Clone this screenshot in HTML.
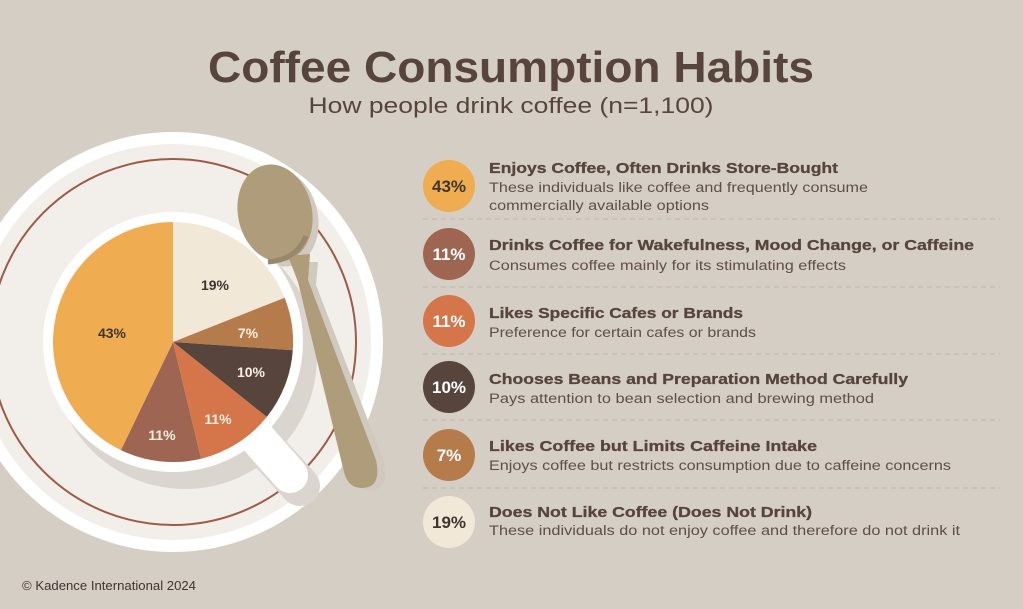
<!DOCTYPE html>
<html><head><meta charset="utf-8"><style>
html,body{margin:0;padding:0;background:#d5cec4;}
svg{display:block;font-family:"Liberation Sans",sans-serif;}
</style></head><body>
<svg width="1023" height="609" viewBox="0 0 1023 609" xmlns="http://www.w3.org/2000/svg">
<rect width="1023" height="609" fill="#d5cec4"/>
<text x="511" y="82" text-anchor="middle" font-size="44" font-weight="bold" fill="#57453d" textLength="606" lengthAdjust="spacingAndGlyphs">Coffee Consumption Habits</text>
<text x="511" y="113" text-anchor="middle" font-size="22" fill="#57453d" textLength="405" lengthAdjust="spacingAndGlyphs">How people drink coffee (n=1,100)</text>

<!-- saucer -->
<circle cx="173" cy="342" r="210" fill="#ffffff"/>
<circle cx="173" cy="342" r="198" fill="#f2efea"/>
<circle cx="173" cy="342" r="183" fill="none" stroke="#9e5a45" stroke-width="2"/>
<!-- spoon shadow -->
<g fill="#cfc9c0">
<ellipse cx="281" cy="218" rx="37" ry="49" transform="rotate(-12 281 218)"/>
<path d="M296 262 L318 262 L316 285 L384 462 Q390 490 370 490 Q356 490 350 476 L306 285 Z"/>
</g>
<!-- cup shadow & handle -->
<circle cx="185" cy="357" r="132" fill="#dad6cf"/>
<path d="M258 440 L300 486" stroke="#dad6cf" stroke-width="40" stroke-linecap="round"/>
<path d="M252 432 L290 475" stroke="#ffffff" stroke-width="36" stroke-linecap="round"/>
<circle cx="173" cy="342" r="130" fill="#ffffff"/>
<!-- pie -->
<g transform="translate(173,342)">
<path d="M0 0 L0 -120 A120 120 0 0 1 111.6 -44.2 Z" fill="#f2e8d8"/>
<path d="M0 0 L111.6 -44.2 A120 120 0 0 1 119.8 8.2 Z" fill="#b57b4b"/>
<path d="M0 0 L119.8 8.2 A120 120 0 0 1 93.7 75.0 Z" fill="#57453d"/>
<path d="M0 0 L93.7 75.0 A120 120 0 0 1 28.1 116.7 Z" fill="#d4764a"/>
<path d="M0 0 L28.1 116.7 A120 120 0 0 1 -52.1 108.1 Z" fill="#9e6652"/>
<path d="M0 0 L-52.1 108.1 A120 120 0 0 1 0 -120 Z" fill="#f0ac50"/>
</g>
<g font-size="14" font-weight="bold" text-anchor="middle">
<text x="215" y="290" fill="#3f3430">19%</text>
<text x="248" y="338" fill="#f7efe4">7%</text>
<text x="251" y="377" fill="#f7efe4">10%</text>
<text x="218" y="424" fill="#f7efe4">11%</text>
<text x="162" y="440" fill="#f7efe4">11%</text>
<text x="112" y="338" fill="#3f3430">43%</text>
</g>
<!-- spoon -->
<g fill="#ae9c7b">
<ellipse cx="275" cy="213" rx="37" ry="49" transform="rotate(-12 275 213)"/>
<path d="M288 256 L310 254 L308 280 L376 460 Q382 488 362 488 Q348 488 344 472 L298 282 Z"/>
</g>
<path d="M268 262 Q296 260 306 236" stroke="#9a876a" stroke-width="5" fill="none"/>

<!-- legend -->
<g stroke="#bfb7ab" stroke-width="1" stroke-dasharray="5,4">
<line x1="423" y1="219" x2="1000" y2="219"/>
<line x1="423" y1="287" x2="1000" y2="287"/>
<line x1="423" y1="354" x2="1000" y2="354"/>
<line x1="423" y1="420" x2="1000" y2="420"/>
<line x1="423" y1="488" x2="1000" y2="488"/>
</g>
<circle cx="449" cy="186" r="26" fill="#f0ac50"/>
<circle cx="449" cy="254" r="26" fill="#9e6652"/>
<circle cx="449" cy="321" r="26" fill="#d4764a"/>
<circle cx="449" cy="387" r="26" fill="#57453d"/>
<circle cx="449" cy="455" r="26" fill="#b57b4b"/>
<circle cx="449" cy="522" r="26" fill="#f2e8d8"/>
<g font-size="17" font-weight="bold" text-anchor="middle">
<text x="449" y="192" fill="#3f3430">43%</text>
<text x="449" y="260" fill="#ffffff">11%</text>
<text x="449" y="327" fill="#ffffff">11%</text>
<text x="449" y="393" fill="#ffffff">10%</text>
<text x="449" y="461" fill="#ffffff">7%</text>
<text x="449" y="528" fill="#3f3430">19%</text>
</g>
<g font-size="15" font-weight="bold" fill="#57453d" stroke="#57453d" stroke-width="0.3">
<text x="489" y="173" textLength="349" lengthAdjust="spacingAndGlyphs">Enjoys Coffee, Often Drinks Store-Bought</text>
<text x="489" y="250" textLength="485" lengthAdjust="spacingAndGlyphs">Drinks Coffee for Wakefulness, Mood Change, or Caffeine</text>
<text x="489" y="318" textLength="254" lengthAdjust="spacingAndGlyphs">Likes Specific Cafes or Brands</text>
<text x="489" y="384" textLength="419" lengthAdjust="spacingAndGlyphs">Chooses Beans and Preparation Method Carefully</text>
<text x="489" y="451" textLength="328" lengthAdjust="spacingAndGlyphs">Likes Coffee but Limits Caffeine Intake</text>
<text x="489" y="517" textLength="323" lengthAdjust="spacingAndGlyphs">Does Not Like Coffee (Does Not Drink)</text>
</g>
<g font-size="13.5" fill="#5e4e47">
<text x="489" y="192" textLength="379" lengthAdjust="spacingAndGlyphs">These individuals like coffee and frequently consume</text>
<text x="489" y="210" textLength="220" lengthAdjust="spacingAndGlyphs">commercially available options</text>
<text x="489" y="270" textLength="357" lengthAdjust="spacingAndGlyphs">Consumes coffee mainly for its stimulating effects</text>
<text x="489" y="337" textLength="267" lengthAdjust="spacingAndGlyphs">Preference for certain cafes or brands</text>
<text x="489" y="403" textLength="385" lengthAdjust="spacingAndGlyphs">Pays attention to bean selection and brewing method</text>
<text x="489" y="470" textLength="462" lengthAdjust="spacingAndGlyphs">Enjoys coffee but restricts consumption due to caffeine concerns</text>
<text x="489" y="535" textLength="471" lengthAdjust="spacingAndGlyphs">These individuals do not enjoy coffee and therefore do not drink it</text>
</g>
<text x="22" y="590" font-size="13" fill="#3f3430" textLength="174" lengthAdjust="spacingAndGlyphs">© Kadence International 2024</text>
</svg>
</body></html>
